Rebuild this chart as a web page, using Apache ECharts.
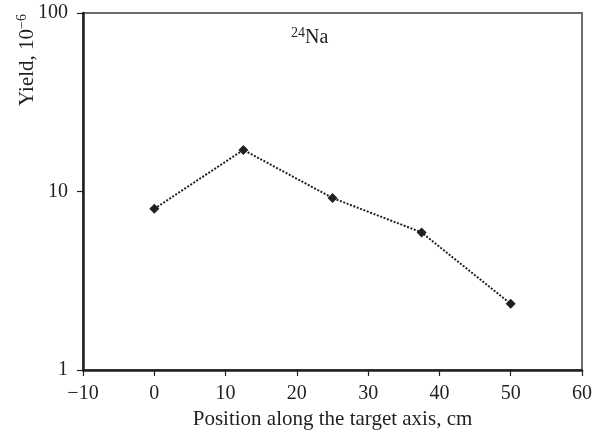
<!DOCTYPE html>
<html>
<head>
<meta charset="utf-8">
<script src="https://cdn.jsdelivr.net/npm/echarts@6/dist/echarts.min.js"></script>
<style>
  html, body { margin: 0; padding: 0; background: #fff; }
  #chart { width: 595px; height: 437px; }
</style>
</head>
<body>
<div id="chart"></div>
<script>
// Position along the target axis (cm) and 24Na yield (10^-6)
const positions = [0, 12.5, 25, 37.5, 50];
const yields = [8.0, 17.1, 9.2, 5.9, 2.35];
const xTicks = [-10, 0, 10, 20, 30, 40, 50, 60];
const yTicks = [1, 10, 100];

const FONT = '"Liberation Serif", "DejaVu Serif", serif';
const INK = '#231f20';

const chart = echarts.init(document.getElementById('chart'), null, { renderer: 'canvas' });

chart.setOption({
  animation: false,
  backgroundColor: '#fff',
  grid: {
    left: 83, right: 12, top: 13, bottom: 67,
    show: true,
    borderColor: '#6d6d6d',
    borderWidth: 2,
    backgroundColor: 'transparent'
  },
  graphic: [
    {
      type: 'text',
      left: 291, top: 26,
      style: {
        text: '{s|24}{n|Na}',
        rich: {
          s: { fontFamily: FONT, fontSize: 14, fill: INK, padding: [0, 0, 9, 0] },
          n: { fontFamily: FONT, fontSize: 20, fill: INK }
        }
      }
    },
    {
      type: 'text',
      x: 27, y: 60,
      rotation: Math.PI / 2,
      style: {
        text: '{n|Yield, 10}{s|\u22126}',
        align: 'center',
        verticalAlign: 'middle',
        rich: {
          n: { fontFamily: FONT, fontSize: 21, fill: INK },
          s: { fontFamily: FONT, fontSize: 14, fill: INK, padding: [0, 0, 10, 0] }
        }
      }
    }
  ],
  xAxis: {
    type: 'value',
    min: xTicks[0],
    max: xTicks[xTicks.length - 1],
    interval: 10,
    name: 'Position along the target axis, cm',
    nameLocation: 'middle',
    nameGap: 39,
    nameTextStyle: { fontFamily: FONT, fontSize: 21, color: INK },
    axisLine: { onZero: false, lineStyle: { color: INK, width: 2.5 } },
    axisTick: { show: true, inside: false, length: 6, lineStyle: { color: INK, width: 1.2 } },
    axisLabel: {
      fontFamily: FONT, fontSize: 20, color: INK, margin: 14,
      formatter: v => (v < 0 ? '\u2212' + Math.abs(v) : String(v))
    },
    splitLine: { show: false }
  },
  yAxis: {
    type: 'log',
    logBase: 10,
    min: yTicks[0],
    max: yTicks[yTicks.length - 1],
    axisLine: { show: true, onZero: false, lineStyle: { color: INK, width: 2.5 } },
    axisTick: { show: true, inside: false, length: 6, lineStyle: { color: INK, width: 1.2 } },
    axisLabel: {
      fontFamily: FONT, fontSize: 20, color: INK, margin: 15,
      formatter: v => String(Math.round(v))
    },
    splitLine: { show: false }
  },
  series: [{
    type: 'line',
    data: positions.map((p, i) => [p, yields[i]]),
    symbol: 'diamond',
    symbolSize: 10,
    itemStyle: { color: INK },
    lineStyle: { color: INK, width: 2, type: [2, 1.6] },
    z: 3
  }]
});
</script>
</body>
</html>
